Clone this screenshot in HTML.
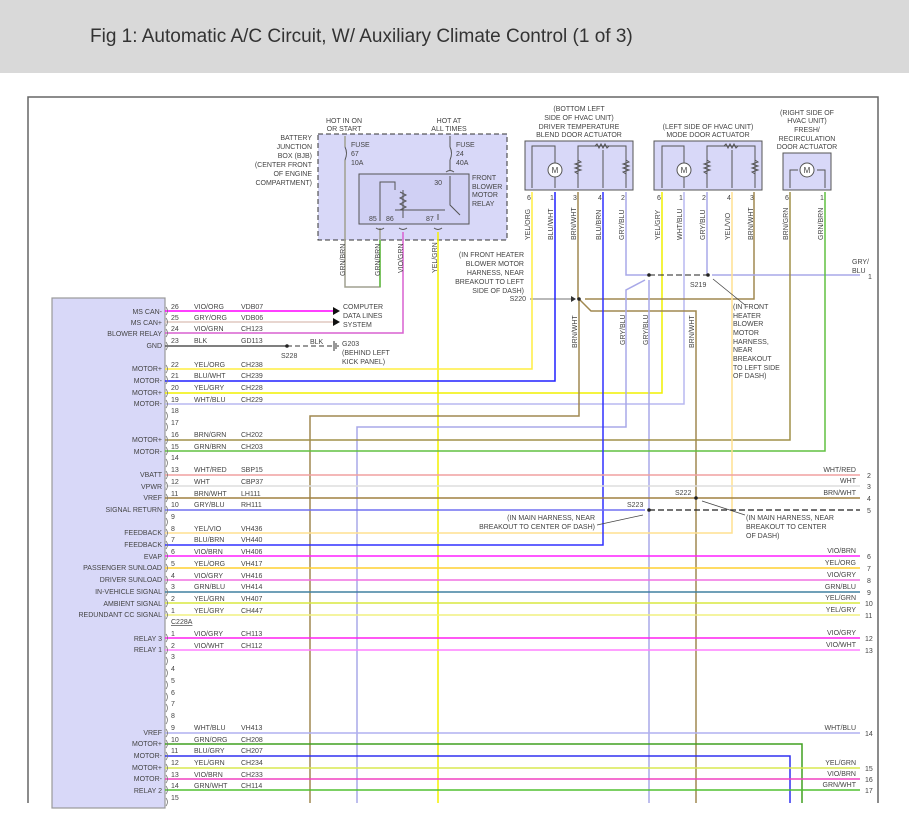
<!DOCTYPE html>
<html><head><meta charset="utf-8"><style>
html,body{margin:0;padding:0;background:#fff;}
svg text{font-family:"Liberation Sans",sans-serif;font-size:7px;fill:#444;}
</style></head><body>
<svg width="909" height="825" viewBox="0 0 909 825" xmlns="http://www.w3.org/2000/svg">
<rect x="0" y="0" width="909" height="73" fill="#d9d9d9"/>
<text x="90" y="42" style="font-size:19px;fill:#333">Fig 1: Automatic A/C Circuit, W/ Auxiliary Climate Control (1 of 3)</text>
<!-- frame -->
<path d="M28,803 V97 H878 V803" fill="none" stroke="#666" stroke-width="1.5"/>
<!-- module -->
<rect x="52" y="298" width="113" height="510" fill="#d8d8f8" stroke="#999" stroke-width="1.2"/>

<!-- BJB -->
<rect x="318" y="134" width="189" height="106" fill="#d8d8f8" stroke="#333" stroke-dasharray="5,3"/>
<g text-anchor="end">
<text x="312" y="140">BATTERY</text><text x="312" y="149">JUNCTION</text><text x="312" y="158">BOX (BJB)</text><text x="312" y="167">(CENTER FRONT</text><text x="312" y="176">OF ENGINE</text><text x="312" y="185">COMPARTMENT)</text>
</g>
<g text-anchor="middle">
<text x="344" y="123">HOT IN ON</text><text x="344" y="131">OR START</text>
<text x="449" y="123">HOT AT</text><text x="449" y="131">ALL TIMES</text>
</g>
<text x="351" y="147">FUSE</text><text x="351" y="156">67</text><text x="351" y="165">10A</text>
<text x="456" y="147">FUSE</text><text x="456" y="156">24</text><text x="456" y="165">40A</text>
<path d="M345,136 V147 M345,160 V287 H380 V228" fill="none" stroke="#a0a090" stroke-width="1.5"/>
<path d="M380,240 V287" stroke="#60c040" stroke-width="1.5"/>
<path d="M345,147 q3,6 0,13" fill="none" stroke="#555"/>
<path d="M450,136 V147 M450,160 V170" fill="none" stroke="#555"/>
<path d="M450,147 q3,6 0,13" fill="none" stroke="#555"/>
<rect x="359" y="174" width="110" height="50" fill="#d0d0f4" stroke="#555"/>
<text x="442" y="185" text-anchor="end">30</text>
<text x="472" y="180">FRONT</text><text x="472" y="189">BLOWER</text><text x="472" y="197">MOTOR</text><text x="472" y="206">RELAY</text>
<path d="M450,176 V205 L460,215 M380,221 V182 H395 V190 M403,190 V218 M395,210 H445 M438,220 V214" fill="none" stroke="#555"/>
<path d="M400,192 l6,3 -6,3 6,3 -6,3 6,3 -6,3" fill="none" stroke="#555"/>
<text x="369" y="221">85</text><text x="386" y="221">86</text><text x="426" y="221">87</text>
<path d="M376,228 q4,3 8,0 M399,228 q4,3 8,0 M434,228 q4,3 8,0 M446,172 q4,-3 8,0" fill="none" stroke="#555"/>
<path d="M403,232 V333 H165" fill="none" stroke="#d860d0" stroke-width="1.5"/>
<path d="M438,232 V803" fill="none" stroke="#f4f000" stroke-width="1.5"/>
<g transform="rotate(-90)">
<text x="-276" y="345">GRN/BRN</text><text x="-276" y="380">GRN/BRN</text><text x="-273" y="403">VIO/GRN</text><text x="-273" y="437">YEL/GRN</text>
</g>
<g text-anchor="end">
<text x="524" y="257">(IN FRONT HEATER</text><text x="524" y="266">BLOWER MOTOR</text><text x="524" y="275">HARNESS, NEAR</text><text x="524" y="284">BREAKOUT TO LEFT</text><text x="524" y="293">SIDE OF DASH)</text>
<text x="526" y="301">S220</text>
</g>
<path d="M530,299 H571" stroke="#444" stroke-width="0.8"/><path d="M571,296 l5,3 -5,3z" fill="#333"/>

<!-- actuators -->
<g text-anchor="middle">
<text x="579" y="111">(BOTTOM LEFT</text><text x="579" y="120">SIDE OF HVAC UNIT)</text><text x="579" y="129">DRIVER TEMPERATURE</text><text x="579" y="137">BLEND DOOR ACTUATOR</text>
<text x="708" y="129">(LEFT SIDE OF HVAC UNIT)</text><text x="708" y="137">MODE DOOR ACTUATOR</text>
<text x="807" y="115">(RIGHT SIDE OF</text><text x="807" y="123">HVAC UNIT)</text><text x="807" y="132">FRESH/</text><text x="807" y="141">RECIRCULATION</text><text x="807" y="149">DOOR ACTUATOR</text>
</g>
<rect x="525" y="141" width="108" height="49" fill="#d8d8f8" stroke="#555"/>
<rect x="654" y="141" width="108" height="49" fill="#d8d8f8" stroke="#555"/>
<rect x="783" y="153" width="48" height="37" fill="#d8d8f8" stroke="#555"/>
<path d="M532,188 V146 H555 V163 M555,177 V188 M578,188 V146 H626 V188 M603,150 V188" fill="none" stroke="#555"/>
<circle cx="555" cy="170" r="7" fill="#fff" stroke="#555"/><text x="555" y="173" text-anchor="middle" style="font-size:8px">M</text>
<path d="M662,188 V146 H684 V163 M684,177 V188 M707,188 V146 H755 V188 M732,150 V188" fill="none" stroke="#555"/>
<circle cx="684" cy="170" r="7" fill="#fff" stroke="#555"/><text x="684" y="173" text-anchor="middle" style="font-size:8px">M</text>
<path d="M790,188 V170 H798 M817,170 H825 V188" fill="none" stroke="#555"/>
<circle cx="807" cy="170" r="7" fill="#fff" stroke="#555"/><text x="807" y="173" text-anchor="middle" style="font-size:8px">M</text>
<g fill="none" stroke="#555">
<path d="M578,160 l3,2 -6,2 6,2 -6,2 6,2 -6,2 3,2"/><path d="M626,160 l3,2 -6,2 6,2 -6,2 6,2 -6,2 3,2"/><path d="M595,146 l2,-2 2,4 2,-4 2,4 2,-4 2,4 2,-2"/>
<path d="M707,160 l3,2 -6,2 6,2 -6,2 6,2 -6,2 3,2"/><path d="M755,160 l3,2 -6,2 6,2 -6,2 6,2 -6,2 3,2"/><path d="M724,146 l2,-2 2,4 2,-4 2,4 2,-4 2,4 2,-2"/>
</g>
<g text-anchor="middle" style="font-size:6px">
<text x="529" y="200">6</text><text x="552" y="200">1</text><text x="575" y="200">3</text><text x="600" y="200">4</text><text x="623" y="200">2</text>
<text x="659" y="200">6</text><text x="681" y="200">1</text><text x="704" y="200">2</text><text x="729" y="200">4</text><text x="752" y="200">3</text>
<text x="787" y="200">6</text><text x="822" y="200">1</text>
</g>
<g transform="rotate(-90)">
<text x="-240" y="530">YEL/ORG</text><text x="-240" y="553">BLU/WHT</text><text x="-240" y="576">BRN/WHT</text><text x="-240" y="601">BLU/BRN</text><text x="-240" y="624">GRY/BLU</text>
<text x="-240" y="660">YEL/GRY</text><text x="-240" y="682">WHT/BLU</text><text x="-240" y="705">GRY/BLU</text><text x="-240" y="730">YEL/VIO</text><text x="-240" y="753">BRN/WHT</text>
<text x="-240" y="788">BRN/GRN</text><text x="-240" y="823">GRN/BRN</text>
<text x="-348" y="577">BRN/WHT</text><text x="-345" y="625">GRY/BLU</text><text x="-345" y="648">GRY/BLU</text><text x="-348" y="694">BRN/WHT</text>
</g>

<!-- vertical & routed wires -->
<g fill="none" stroke-width="1.5">
<path d="M532,192 V369 H165" stroke="#ffee40"/>
<path d="M555,192 V381 H165" stroke="#2020ff"/>
<path d="M662,192 V393 H165" stroke="#f0f000"/>
<path d="M684,192 V404 H165" stroke="#b8b8f0"/>
<path d="M578,192 V299 M579,299 V416 H310 V803" stroke="#a08850"/>
<path d="M585,299 H754 V192 M580,300 L591,311 H696 V803" stroke="#a08850"/>
<path d="M626,192 V275 H649 M707,192 V275 M712,275 H860" stroke="#a8a8e8"/>
<path d="M645,280 L626,290 V427 H357 V803 M649,280 V803" stroke="#a8a8e8"/>
<path d="M790,192 V440 H165" stroke="#a09048"/>
<path d="M825,192 V451 H165" stroke="#60c040"/>
<path d="M732,192 V533 H165" stroke="#ffe090"/>
<path d="M603,192 V545 H165" stroke="#3030ff"/>
<path d="M802,803 V744 H165" stroke="#40a020"/>
<path d="M790,803 V756 H165" stroke="#3030f0"/>
</g>
<path d="M649,275 H708" stroke="#222" stroke-dasharray="6,3"/>
<circle cx="649" cy="275" r="1.8" fill="#222"/><circle cx="708" cy="275" r="1.8" fill="#222"/><circle cx="579" cy="299" r="1.8" fill="#222"/>
<text x="852" y="264">GRY/</text><text x="852" y="273">BLU</text><text x="868" y="279">1</text>
<text x="690" y="287">S219</text>
<path d="M745,305 L713,279" stroke="#444" stroke-width="0.8"/>
<g><text x="733" y="309">(IN FRONT</text><text x="733" y="318">HEATER</text><text x="733" y="326">BLOWER</text><text x="733" y="335">MOTOR</text><text x="733" y="344">HARNESS,</text><text x="733" y="352">NEAR</text><text x="733" y="361">BREAKOUT</text><text x="733" y="370">TO LEFT SIDE</text><text x="733" y="378">OF DASH)</text></g>

<!-- straight rows -->
<g fill="none" stroke-width="1.5">
<path d="M165,311 H333" stroke="#ff00ff"/>
<path d="M165,322 H333" stroke="#e0c8c0"/>
<path d="M165,346 H287" stroke="#555"/>
<path d="M165,475 H860" stroke="#f0a0a0"/>
<path d="M165,486 H860" stroke="#dddddd"/>
<path d="M165,498 H860" stroke="#a08040"/>
<path d="M165,510 H645" stroke="#7070f0"/>
<path d="M165,556 H860" stroke="#ff20ff"/>
<path d="M165,568 H860" stroke="#ffd030"/>
<path d="M165,580 H860" stroke="#f070e0"/>
<path d="M165,592 H860" stroke="#4080a0"/>
<path d="M165,603 H860" stroke="#d8e840"/>
<path d="M165,615 H860" stroke="#f0f080"/>
<path d="M165,638 H860" stroke="#ff20f0"/>
<path d="M165,650 H860" stroke="#ff80ff"/>
<path d="M165,733 H860" stroke="#b0b0f0"/>
<path d="M165,768 H860" stroke="#d8e850"/>
<path d="M165,779 H860" stroke="#f040c0"/>
<path d="M165,790 H860" stroke="#50c030"/>
</g>
<path d="M333,307 l7,4 -7,4z M333,318 l7,4 -7,4z" fill="#111"/>
<text x="343" y="309">COMPUTER</text><text x="343" y="318">DATA LINES</text><text x="343" y="327">SYSTEM</text>
<path d="M287,346 H333" stroke="#333" stroke-dasharray="5,3"/>
<circle cx="287" cy="346" r="1.8" fill="#222"/>
<path d="M334,341 V351 M336,343 V349 M338,345 V347" stroke="#333"/>
<text x="310" y="344">BLK</text><text x="281" y="358">S228</text>
<text x="342" y="346">G203</text><text x="342" y="355">(BEHIND LEFT</text><text x="342" y="364">KICK PANEL)</text>
<path d="M649,510 H860" stroke="#222" stroke-dasharray="6,3" stroke-width="1.2"/>
<circle cx="649" cy="510" r="1.8" fill="#222"/><circle cx="696" cy="498" r="1.8" fill="#222"/>
<text x="675" y="495">S222</text><text x="627" y="507">S223</text>
<path d="M745,515 L702,501 M597,525 L643,515" stroke="#444" stroke-width="0.8"/>
<text x="746" y="520">(IN MAIN HARNESS, NEAR</text><text x="746" y="529">BREAKOUT TO CENTER</text><text x="746" y="538">OF DASH)</text>
<g text-anchor="end"><text x="595" y="520">(IN MAIN HARNESS, NEAR</text><text x="595" y="529">BREAKOUT TO CENTER OF DASH)</text></g>

<!-- right labels -->
<g text-anchor="end">
<text x="856" y="472">WHT/RED</text><text x="856" y="483">WHT</text><text x="856" y="495">BRN/WHT</text>
<text x="856" y="553">VIO/BRN</text><text x="856" y="565">YEL/ORG</text><text x="856" y="577">VIO/GRY</text><text x="856" y="589">GRN/BLU</text><text x="856" y="600">YEL/GRN</text><text x="856" y="612">YEL/GRY</text>
<text x="856" y="635">VIO/GRY</text><text x="856" y="647">VIO/WHT</text><text x="856" y="730">WHT/BLU</text>
<text x="856" y="765">YEL/GRN</text><text x="856" y="776">VIO/BRN</text><text x="856" y="787">GRN/WHT</text>
</g>
<g>
<text x="867" y="478">2</text><text x="867" y="489">3</text><text x="867" y="501">4</text><text x="867" y="513">5</text>
<text x="867" y="559">6</text><text x="867" y="571">7</text><text x="867" y="583">8</text><text x="867" y="595">9</text><text x="865" y="606">10</text><text x="865" y="618">11</text>
<text x="865" y="641">12</text><text x="865" y="653">13</text><text x="865" y="736">14</text>
<text x="865" y="771">15</text><text x="865" y="782">16</text><text x="865" y="793">17</text>
</g>

<!-- module labels -->
<g text-anchor="end">
<text x="162" y="314">MS CAN-</text><text x="162" y="325">MS CAN+</text><text x="162" y="336">BLOWER RELAY</text><text x="162" y="348">GND</text>
<text x="162" y="371">MOTOR+</text><text x="162" y="383">MOTOR-</text><text x="162" y="395">MOTOR+</text><text x="162" y="406">MOTOR-</text>
<text x="162" y="442">MOTOR+</text><text x="162" y="454">MOTOR-</text>
<text x="162" y="477">VBATT</text><text x="162" y="489">VPWR</text><text x="162" y="500">VREF</text><text x="162" y="512">SIGNAL RETURN</text>
<text x="162" y="535">FEEDBACK</text><text x="162" y="547">FEEDBACK</text><text x="162" y="559">EVAP</text><text x="162" y="570">PASSENGER SUNLOAD</text><text x="162" y="582">DRIVER SUNLOAD</text><text x="162" y="594">IN-VEHICLE SIGNAL</text><text x="162" y="606">AMBIENT SIGNAL</text><text x="162" y="617">REDUNDANT CC SIGNAL</text>
<text x="162" y="641">RELAY 3</text><text x="162" y="652">RELAY 1</text>
<text x="162" y="735">VREF</text><text x="162" y="746">MOTOR+</text><text x="162" y="758">MOTOR-</text><text x="162" y="770">MOTOR+</text><text x="162" y="781">MOTOR-</text><text x="162" y="793">RELAY 2</text>
</g>

<!-- pin numbers / wire names / ids -->
<g>
<text x="171" y="309">26</text><text x="194" y="309">VIO/ORG</text><text x="241" y="309">VDB07</text>
<text x="171" y="320">25</text><text x="194" y="320">GRY/ORG</text><text x="241" y="320">VDB06</text>
<text x="171" y="331">24</text><text x="194" y="331">VIO/GRN</text><text x="241" y="331">CH123</text>
<text x="171" y="343">23</text><text x="194" y="343">BLK</text><text x="241" y="343">GD113</text>
<text x="171" y="367">22</text><text x="194" y="367">YEL/ORG</text><text x="241" y="367">CH238</text>
<text x="171" y="378">21</text><text x="194" y="378">BLU/WHT</text><text x="241" y="378">CH239</text>
<text x="171" y="390">20</text><text x="194" y="390">YEL/GRY</text><text x="241" y="390">CH228</text>
<text x="171" y="402">19</text><text x="194" y="402">WHT/BLU</text><text x="241" y="402">CH229</text>
<text x="171" y="413">18</text><text x="171" y="425">17</text>
<text x="171" y="437">16</text><text x="194" y="437">BRN/GRN</text><text x="241" y="437">CH202</text>
<text x="171" y="449">15</text><text x="194" y="449">GRN/BRN</text><text x="241" y="449">CH203</text>
<text x="171" y="460">14</text>
<text x="171" y="472">13</text><text x="194" y="472">WHT/RED</text><text x="241" y="472">SBP15</text>
<text x="171" y="484">12</text><text x="194" y="484">WHT</text><text x="241" y="484">CBP37</text>
<text x="171" y="496">11</text><text x="194" y="496">BRN/WHT</text><text x="241" y="496">LH111</text>
<text x="171" y="507">10</text><text x="194" y="507">GRY/BLU</text><text x="241" y="507">RH111</text>
<text x="171" y="519">9</text>
<text x="171" y="531">8</text><text x="194" y="531">YEL/VIO</text><text x="241" y="531">VH436</text>
<text x="171" y="542">7</text><text x="194" y="542">BLU/BRN</text><text x="241" y="542">VH440</text>
<text x="171" y="554">6</text><text x="194" y="554">VIO/BRN</text><text x="241" y="554">VH406</text>
<text x="171" y="566">5</text><text x="194" y="566">YEL/ORG</text><text x="241" y="566">VH417</text>
<text x="171" y="578">4</text><text x="194" y="578">VIO/GRY</text><text x="241" y="578">VH416</text>
<text x="171" y="589">3</text><text x="194" y="589">GRN/BLU</text><text x="241" y="589">VH414</text>
<text x="171" y="601">2</text><text x="194" y="601">YEL/GRN</text><text x="241" y="601">VH407</text>
<text x="171" y="613">1</text><text x="194" y="613">YEL/GRY</text><text x="241" y="613">CH447</text>
<text x="171" y="624" text-decoration="underline">C228A</text>
<text x="171" y="636">1</text><text x="194" y="636">VIO/GRY</text><text x="241" y="636">CH113</text>
<text x="171" y="648">2</text><text x="194" y="648">VIO/WHT</text><text x="241" y="648">CH112</text>
<text x="171" y="659">3</text><text x="171" y="671">4</text><text x="171" y="683">5</text><text x="171" y="695">6</text><text x="171" y="706">7</text><text x="171" y="718">8</text>
<text x="171" y="730">9</text><text x="194" y="730">WHT/BLU</text><text x="241" y="730">VH413</text>
<text x="171" y="742">10</text><text x="194" y="742">GRN/ORG</text><text x="241" y="742">CH208</text>
<text x="171" y="753">11</text><text x="194" y="753">BLU/GRY</text><text x="241" y="753">CH207</text>
<text x="171" y="765">12</text><text x="194" y="765">YEL/GRN</text><text x="241" y="765">CH234</text>
<text x="171" y="777">13</text><text x="194" y="777">VIO/BRN</text><text x="241" y="777">CH233</text>
<text x="171" y="788">14</text><text x="194" y="788">GRN/WHT</text><text x="241" y="788">CH114</text>
<text x="171" y="800">15</text>
</g>
<!-- pin connector marks -->
<g fill="none" stroke="#777" stroke-width="0.8">
<path d="M166,307 q3,4 0,8 M166,318 q3,4 0,8 M166,329 q3,4 0,8 M166,342 q3,4 0,8 M166,365 q3,4 0,8 M166,376 q3,4 0,8 M166,389 q3,4 0,8 M166,400 q3,4 0,8 M166,412 q3,4 0,8 M166,423 q3,4 0,8 M166,436 q3,4 0,8 M166,447 q3,4 0,8 M166,459 q3,4 0,8 M166,471 q3,4 0,8 M166,482 q3,4 0,8 M166,494 q3,4 0,8 M166,506 q3,4 0,8 M166,518 q3,4 0,8 M166,529 q3,4 0,8 M166,541 q3,4 0,8 M166,552 q3,4 0,8 M166,564 q3,4 0,8 M166,576 q3,4 0,8 M166,588 q3,4 0,8 M166,599 q3,4 0,8 M166,611 q3,4 0,8 M166,634 q3,4 0,8 M166,646 q3,4 0,8 M166,657 q3,4 0,8 M166,669 q3,4 0,8 M166,681 q3,4 0,8 M166,693 q3,4 0,8 M166,704 q3,4 0,8 M166,716 q3,4 0,8 M166,729 q3,4 0,8 M166,740 q3,4 0,8 M166,752 q3,4 0,8 M166,764 q3,4 0,8 M166,775 q3,4 0,8 M166,786 q3,4 0,8 M166,798 q3,4 0,8"/>
</g>
</svg>
</body></html>
